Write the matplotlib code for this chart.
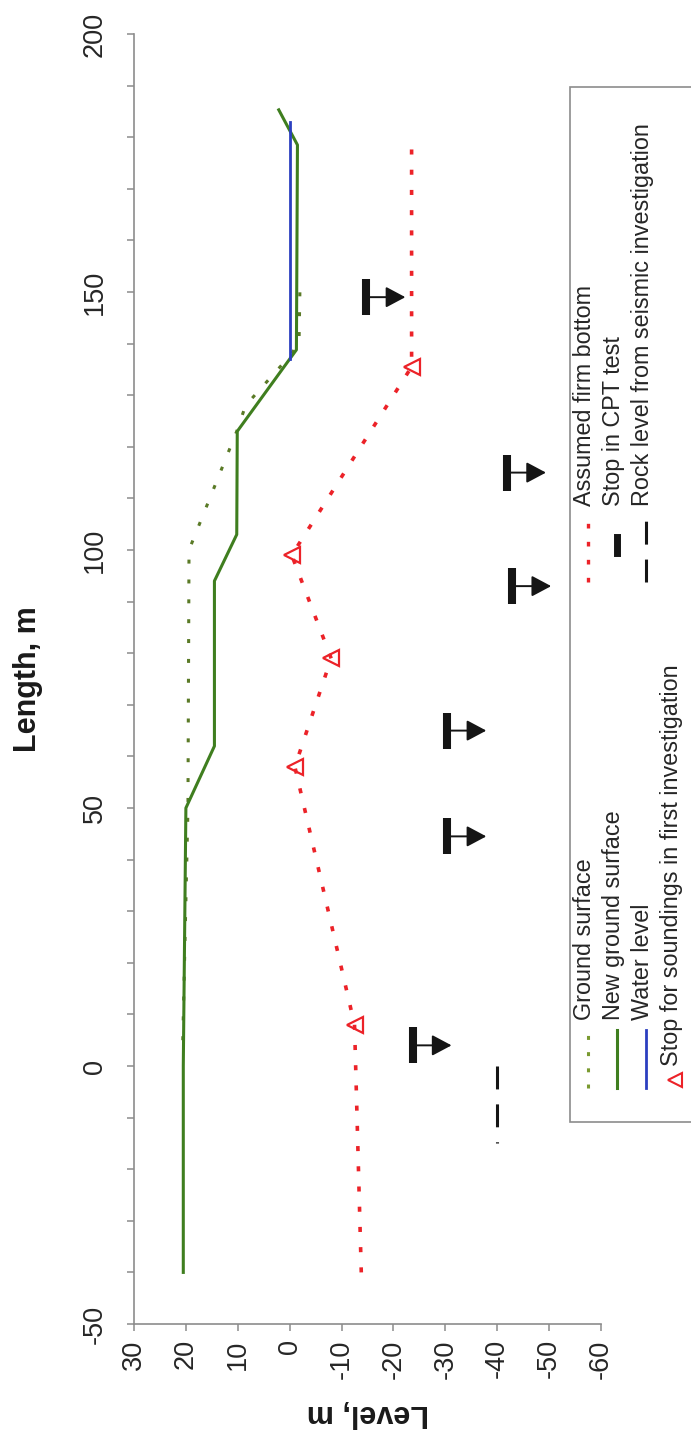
import numpy as np
import matplotlib
matplotlib.use("Agg")
import matplotlib.pyplot as plt
from matplotlib.patches import Rectangle
from matplotlib.lines import Line2D
from matplotlib.transforms import offset_copy

plt.rcParams['font.family'] = ['Liberation Sans', 'DejaVu Sans']
plt.rcParams['axes.unicode_minus'] = False

# --- data (length along section in m, level in m) ---
new_ground_length = [-40, 0, 50, 62, 94, 103, 123, 137, 138.8, 178.5, 185.3]
new_ground_level = [20.5, 20.5, 20.0, 14.5, 14.5, 10.2, 10.1, 0.0, -1.3, -1.5, 2.1]

ground_length = [5, 50, 100, 123, 128, 137, 140, 152]
ground_level = [20.6, 19.6, 19.4, 10.2, 8.5, 0.5, -1.8, -2.0]

water_length = [137, 183]
water_level = [0.0, 0.0]

firm_length = [-40, 8, 58, 79, 99, 135.5, 180]
firm_level = [-13.8, -12.5, -1.0, -8.0, -0.4, -23.5, -23.5]

sounding_length = [8, 58, 79, 99, 135.5]
sounding_level = [-12.5, -1.0, -8.0, -0.4, -23.5]

cpt_length = [4, 44.5, 65, 93, 115, 149]
cpt_level = [-23.7, -30.4, -30.4, -42.9, -41.9, -14.8]

rock_length = [0, -15]
rock_level = [-40, -40]

level_ticks = list(range(30, -61, -10))
length_ticks = list(range(-50, 201, 50))

labels_left = ['Ground surface', 'New ground surface', 'Water level',
               'Stop for soundings in first investigation']
labels_right = ['Assumed firm bottom', 'Stop in CPT test',
                'Rock level from seismic investigation']

# colours
c_ground = '#5a7a26'
c_new = '#3f7e1f'
c_water = '#2b3fc0'
c_red = '#ec2228'
c_black = '#151515'
c_axis = '#8c8c8c'

W, H = 691, 1436
fig = plt.figure(figsize=(W / 100, H / 100), dpi=100)
ax = fig.add_axes([134 / W, 1 - 1324 / H, 467 / W, 1290 / H])

# chart is drawn turned a quarter turn: level runs across, length runs up
ax.plot(ground_level, ground_length, color=c_ground, lw=2.2,
        linestyle=(0, (1.3, 5.2)), zorder=3)
ax.plot(new_ground_level, new_ground_length, color=c_new, lw=2.2, zorder=4)
ax.plot(water_level, water_length, color=c_water, lw=2.0, zorder=5)
ax.plot(firm_level, firm_length, color=c_red, lw=2.6,
        linestyle=(0, (1.4, 4.2)), zorder=3)
ax.plot(sounding_level, sounding_length, linestyle='none', marker='<', ms=12,
        mfc='none', mec=c_red, mew=1.6, zorder=6)
ax.plot(rock_level, rock_length, color=c_black, lw=2.2,
        linestyle=(0, (7.5, 4.9)), zorder=3)

# CPT stops: thick bar with an arrow pointing downward in level
ax.plot(cpt_level, cpt_length, linestyle='none', marker='|', ms=26,
        mew=5.8, color=c_black, zorder=6)
tip = offset_copy(ax.transData, fig=fig, x=28, y=0, units='points')
for lv, ln in zip(cpt_level, cpt_length):
    ax.annotate('', xy=(lv, ln), xycoords=tip, xytext=(lv, ln),
                textcoords='data',
                arrowprops=dict(arrowstyle='-|>,head_length=0.6,head_width=0.32',
                                color=c_black, lw=1.4, shrinkA=0, shrinkB=0,
                                mutation_scale=20), zorder=6)

ax.set_xlim(30, -60)
ax.set_ylim(-50, 200)
ax.set_xticks(level_ticks)
ax.set_yticks(length_ticks)
ax.set_yticks(np.arange(-50, 201, 10), minor=True)

for side in ('top', 'right'):
    ax.spines[side].set_visible(False)
for side in ('left', 'bottom'):
    ax.spines[side].set_color(c_axis)
    ax.spines[side].set_linewidth(1.2)

ax.tick_params(axis='x', labelrotation=90, labelsize=19.5, length=5,
               width=1.1, color=c_axis, labelcolor='#262626', pad=6)
ax.tick_params(axis='y', which='both', length=5, width=1.1, color=c_axis)
ax.tick_params(axis='y', which='major', labelrotation=90, labelsize=19.5,
               labelcolor='#262626', pad=14)
for lab in ax.get_yticklabels():
    lab.set_va('center')

ax.set_xlabel('Level, m', fontsize=22, fontweight='bold', rotation=180,
              va='center', color='#1a1a1a')
ax.xaxis.set_label_coords(0.5, -(1413 - 1324) / 1290)
ax.set_ylabel('Length, m', fontsize=22, fontweight='bold', rotation=90,
              va='center', color='#1a1a1a')
ax.yaxis.set_label_coords(-(134 - 28) / 467, 0.5)

# legend, laid out in figure pixels to follow the turned chart
lg = fig.add_axes([0, 0, 1, 1], zorder=10)
lg.set_xlim(0, W)
lg.set_ylim(H, 0)
lg.axis('off')
lg.add_patch(Rectangle((570, 87), 140, 1035, fc='white', ec=c_axis, lw=1.2))

col_x = [588, 617, 646, 675]
fs = 16.8

# left column
lg.add_line(Line2D([col_x[0]] * 2, [1088, 1030], color='#7a9a30', lw=2.2,
                   linestyle=(0, (1.3, 4.0))))
lg.add_line(Line2D([col_x[1]] * 2, [1088, 1030], color=c_new, lw=2.2))
lg.add_line(Line2D([col_x[2]] * 2, [1088, 1030], color=c_water, lw=2.0))
lg.plot([col_x[3]], [1080], marker='<', ms=10, mfc='none', mec=c_red, mew=1.5)
starts_left = [1020, 1020, 1020, 1066]
for x, y0, s in zip(col_x, starts_left, labels_left):
    lg.text(x - 3, y0, s, rotation=90, rotation_mode='anchor', ha='left',
            va='center', fontsize=fs, color='#262626')

# right column
lg.add_line(Line2D([col_x[0]] * 2, [582, 513], color=c_red, lw=2.4,
                   linestyle=(0, (1.4, 4.0))))
lg.add_line(Line2D([col_x[1]] * 2, [553, 537], color=c_black, lw=5))
lg.add_line(Line2D([col_x[2]] * 2, [582, 518], color=c_black, lw=2.2,
                   linestyle=(0, (7.5, 4.9))))
for x, s in zip(col_x, labels_right):
    lg.text(x - 3, 506, s, rotation=90, rotation_mode='anchor', ha='left',
            va='center', fontsize=fs, color='#262626')

fig.savefig('out.png', dpi=100)
